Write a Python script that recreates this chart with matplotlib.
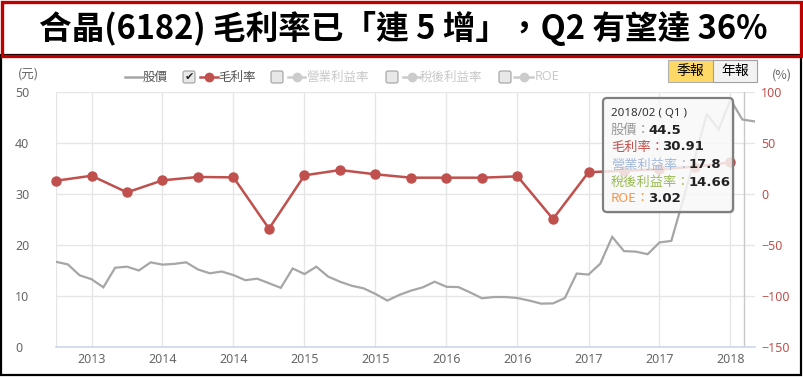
import matplotlib
matplotlib.use('Agg')
import matplotlib.pyplot as plt
from matplotlib.patches import FancyBboxPatch, Rectangle
from matplotlib.lines import Line2D
from matplotlib.transforms import IdentityTransform

plt.rcParams['font.family'] = ['Noto Sans CJK TC', 'DejaVu Sans']

W, H = 804, 377

# ---------------- data ----------------
title = "合晶(6182) 毛利率已「連 5 增」，Q2 有望達 36%"

price_start = '2013/05'          # monthly stock price (元)
price = [16.7, 16.2, 14.05, 13.3, 11.7, 15.55, 15.75, 15.0, 16.6, 16.15,
         16.3, 16.6, 15.2, 14.45, 14.8, 14.1, 13.1, 13.4, 12.5, 11.6,
         15.4, 14.3, 15.75, 13.8, 12.8, 12.0, 11.5, 10.4, 9.1, 10.2,
         11.05, 11.7, 12.8, 11.8, 11.75, 10.7, 9.55, 9.8, 9.8, 9.6,
         9.1, 8.5, 8.55, 9.6, 14.4, 14.2, 16.35, 21.6, 18.8, 18.7,
         18.2, 20.5, 20.8, 28.9, 37.2, 45.7, 42.6, 48.5, 44.6, 44.25]

quarters = ['2013/05', '2013/08', '2013/11', '2014/02', '2014/05', '2014/08',
            '2014/11', '2015/02', '2015/05', '2015/08', '2015/11', '2016/02',
            '2016/05', '2016/08', '2016/11', '2017/02', '2017/05', '2017/08',
            '2017/11', '2018/02']
gross_margin = [13.0, 17.9, 1.6, 13.4, 16.7, 16.3, -34.0, 18.3, 23.5, 19.3,
                16.0, 16.0, 16.0, 17.3, -24.5, 21.3, 22.9, 24.2, 26.8, 30.91]

xtick_dates = ['2013/08', '2014/02', '2014/08', '2015/02', '2015/08',
               '2016/02', '2016/08', '2017/02', '2017/08', '2018/02']
xtick_labels = [d[:4] for d in xtick_dates]

left_ticks = [0, 10, 20, 30, 40, 50]
right_ticks = [-150, -100, -50, 0, 50, 100]

legend_items = ['股價', '毛利率', '營業利益率', '稅後利益率', 'ROE']
tooltip_title = '2018/02 ( Q1 )'
tooltip_labels = ['股價：', '毛利率：', '營業利益率：', '稅後利益率：', 'ROE：']
tooltip_values = ['44.5', '30.91', '17.8', '14.66', '3.02']


def midx(s):
    y, m = map(int, s.split('/'))
    y0, m0 = map(int, price_start.split('/'))
    return (y - y0) * 12 + (m - m0)


# ---------------- figure ----------------
fig = plt.figure(figsize=(W / 100, H / 100), dpi=100)
T = IdentityTransform()

RED = '#c0504d'
GREY = '#a6a6a6'
GRID = '#e6e6e6'

x0, x1, ytop, ybot = 56, 755, 92, 347
ax = fig.add_axes([x0 / W, (H - ybot) / H, (x1 - x0) / W, (ybot - ytop) / H])
ax2 = ax.twinx()

px_per_month = (730.5 - 56) / 57
xmax = (x1 - x0) / px_per_month

pm = list(range(len(price)))
ax.plot(pm, price, color=GREY, lw=1.6, zorder=3, solid_joinstyle='miter')
ax.set_xlim(0, xmax)
ax.set_ylim(0, 50)
ax.set_yticks(left_ticks)
ax.set_xticks([midx(d) for d in xtick_dates])
ax.set_xticklabels(xtick_labels)
ax.grid(True, color=GRID, lw=1)
ax.axvline(0, color=GRID, lw=1, zorder=1)
ax.axvline(58.15, color='#c8c8c8', lw=1, zorder=2)
for s in ['top', 'left', 'right']:
    ax.spines[s].set_visible(False)
ax.spines['bottom'].set_color('#ccd6eb')
ax.spines['bottom'].set_linewidth(1.2)
ax.tick_params(axis='x', length=0, pad=4, labelsize=9, labelcolor='#666666')
ax.tick_params(axis='y', length=0, pad=29.5, labelsize=9, labelcolor='#666666')
for lab in ax.get_yticklabels() + ax.get_xticklabels():
    lab.set_fontfamily('Noto Sans')
for lab in ax.get_yticklabels():
    lab.set_horizontalalignment('left')
ax.set_axisbelow(True)

qm = [midx(q) for q in quarters]
ax2.plot(qm, gross_margin, color=RED, lw=1.8, marker='o', markersize=6.5,
         markerfacecolor=RED, markeredgecolor=RED, zorder=4, clip_on=False)
ax2.set_ylim(-150, 100)
ax2.set_yticks(right_ticks)
ax2.tick_params(axis='y', length=0, pad=4.5, labelsize=9, labelcolor=RED)
for lab in ax2.get_yticklabels():
    lab.set_fontfamily('Noto Sans')
for s in ['top', 'left', 'right', 'bottom']:
    ax2.spines[s].set_visible(False)

# ---------------- frames & title ----------------
fig.add_artist(Rectangle((1, 2), 800, H - 57, transform=T, fill=False,
                         edgecolor='black', lw=1.6, zorder=5))
fig.add_artist(Rectangle((1.5, H - 56), 799, 54.5, transform=T, fill=False,
                         edgecolor='#c00000', lw=2.4, zorder=6))
fig.text(403, H - 29, title, transform=T, ha='center', va='center',
         fontsize=23.5, fontweight='bold', color='black')

# ---------------- legend row ----------------
ly = H - 77
fig.text(28, H - 74, '(元)', transform=T, ha='center', va='center',
         fontsize=9, color='#666666')
fig.text(782, H - 75, '(%)', transform=T, ha='center', va='center',
         fontsize=9, color='#666666')


def checkbox(x, checked=False):
    fig.add_artist(FancyBboxPatch((x, ly - 6), 12, 12, transform=T,
                                  boxstyle='round,pad=0,rounding_size=2',
                                  facecolor='#e8e8e8', edgecolor='#a0a0a0',
                                  lw=0.8, zorder=5))
    if checked:
        fig.text(x + 6, ly, '✔', transform=T, ha='center', va='center',
                 fontsize=8, color='#222222', family='DejaVu Sans', zorder=6)


def legline(xa, xb, color, marker):
    fig.add_artist(Line2D([xa, xb], [ly, ly], transform=T, color=color,
                          lw=1.8, zorder=5))
    if marker:
        fig.add_artist(Line2D([(xa + xb) / 2], [ly], transform=T, color=color,
                              marker='o', markersize=6, zorder=6))


legline(125, 143, GREY, False)
fig.text(143, ly, legend_items[0], transform=T, ha='left', va='center',
         fontsize=9, color='#555555')
checkbox(183, True)
legline(200, 218, RED, True)
fig.text(218, ly, legend_items[1], transform=T, ha='left', va='center',
         fontsize=9, color='#555555')
checkbox(271)
legline(288, 305, '#cccccc', True)
fig.text(306, ly, legend_items[2], transform=T, ha='left', va='center',
         fontsize=9, color='#c8c8c8')
checkbox(386)
legline(403, 420, '#cccccc', True)
fig.text(420, ly, legend_items[3], transform=T, ha='left', va='center',
         fontsize=9, color='#c8c8c8')
checkbox(499)
legline(514, 533, '#cccccc', True)
fig.text(535, ly, legend_items[4], transform=T, ha='left', va='center',
         fontsize=9, color='#c8c8c8', family='Noto Sans')

# buttons
fig.add_artist(Rectangle((668, H - 82), 45, 22, transform=T,
                         facecolor='#ffd966', edgecolor='#b0b0b0', lw=0.8, zorder=5))
fig.text(690.5, H - 71, '季報', transform=T, ha='center', va='center',
         fontsize=10, color='black', zorder=6)
fig.add_artist(Rectangle((713, H - 82), 44, 22, transform=T,
                         facecolor='#f2f2f2', edgecolor='#a0a0a0', lw=0.8, zorder=5))
fig.text(735, H - 71, '年報', transform=T, ha='center', va='center',
         fontsize=10, color='black', zorder=6)

# ---------------- tooltip ----------------
tx0, ty0, tx1, ty1 = 603, 98, 733, 212
fig.add_artist(FancyBboxPatch((tx0 + 1.5, H - ty1 - 1.5), tx1 - tx0, ty1 - ty0,
                              transform=T, boxstyle='round,pad=0,rounding_size=4',
                              facecolor='black', alpha=0.12, lw=0, zorder=7))
fig.add_artist(FancyBboxPatch((tx0, H - ty1), tx1 - tx0, ty1 - ty0, transform=T,
                              boxstyle='round,pad=0,rounding_size=4',
                              facecolor=(1, 1, 1, 0.82), edgecolor='#7f7f7f',
                              lw=1.6, zorder=8))
fig.text(611, H - 114, tooltip_title, transform=T, ha='left', va='center',
         fontsize=8.3, color='#333333', zorder=9, family='Noto Sans')
tcolors = ['#999999', RED, '#a3b9d9', '#9bbb59', '#f79646']
tys = [130, 147, 165, 182, 199]
vxs = [648, 662, 689, 689, 648]
for lab, val, c, yy, vx in zip(tooltip_labels, tooltip_values, tcolors, tys, vxs):
    fig.text(611, H - yy, lab, transform=T, ha='left', va='center',
             fontsize=9.5, color=c, zorder=9)
    fig.text(vx, H - yy, val, transform=T, ha='left', va='center',
             fontsize=9.5, color='#222222', fontweight='bold', zorder=9,
             family='DejaVu Sans')

fig.savefig('out.png', dpi=100)
